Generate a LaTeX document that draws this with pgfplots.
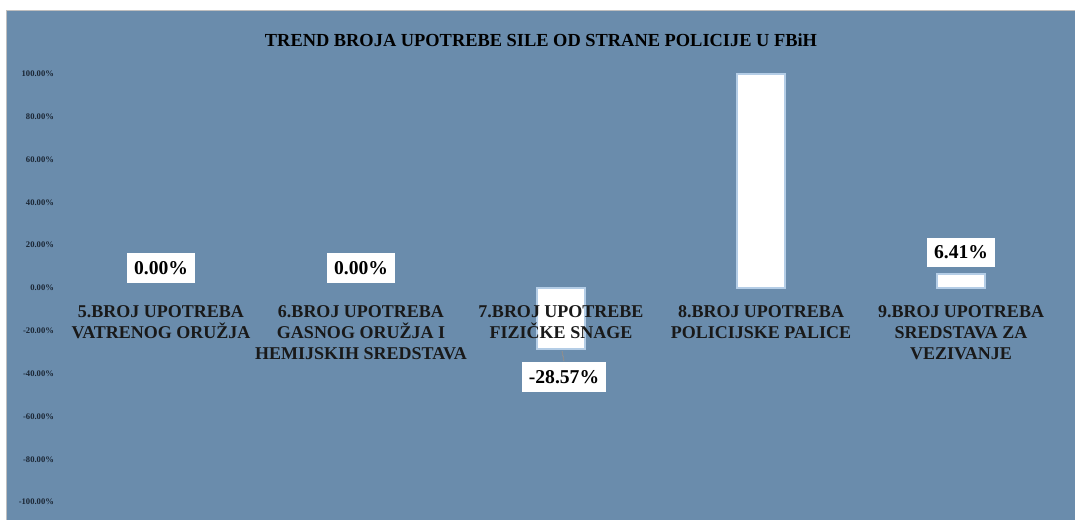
\documentclass[border=0pt]{standalone}
\usepackage{pgfplots}
\pgfplotsset{compat=1.18}
\usepackage{fontspec}
\setmainfont{Liberation Serif}
\definecolor{bgblue}{HTML}{6A8CAC}
\definecolor{glow}{HTML}{B4CDE6}
\definecolor{tickcol}{HTML}{1A2533}
\begin{document}
\begin{tikzpicture}
\fill[white] (0,0) rectangle (537.5pt,260pt);
\fill[black!25] (3pt,0) rectangle (537.5pt,255.2pt);
\fill[bgblue] (3.5pt,0) rectangle (537.5pt,254.5pt);
\useasboundingbox (0,0) rectangle (537.5pt,260pt);
\begin{axis}[
  at={(30.5pt,9pt)}, anchor=south west,
  scale only axis, width=500pt, height=214pt,
  xmin=-0.5, xmax=4.5, ymin=-100, ymax=100,
  axis line style={draw=none},
  tick style={draw=none},
  axis on top,
  ybar,
  ytick={-100,-80,...,100},
  /pgf/number format/assume math mode=true,
  yticklabel={\pgfmathprintnumber[fixed,fixed zerofill,precision=2]{\tick}\%},
  yticklabel style={font=\bfseries\fontsize{4.3}{5}\selectfont, text=tickcol, xshift=0pt},
  xtick={0,1,2,3,4},
  xticklabels={{5.BROJ UPOTREBA\\VATRENOG ORUŽJA},{6.BROJ UPOTREBA\\GASNOG ORUŽJA I\\HEMIJSKIH SREDSTAVA},{7.BROJ UPOTREBE\\FIZIČKE SNAGE},{8.BROJ UPOTREBA\\POLICIJSKE PALICE},{9.BROJ UPOTREBA\\SREDSTAVA ZA\\VEZIVANJE}},
  xticklabel style={font=\bfseries\fontsize{9}{10.5}\selectfont, text=black!90, align=center, anchor=north, yshift=106pt},
  title={TREND BROJA UPOTREBE SILE OD STRANE POLICIJE U FBiH},
  title style={font=\bfseries\fontsize{9.2}{11}\selectfont, at={(axis description cs:0.48,1)}, anchor=center, yshift=11pt},
]
% zero-valued categories (labels only)
\addplot[bar width=24pt, bar shift=0pt, draw=none, fill=none,
  point meta=explicit symbolic,
  nodes near coords,
  nodes near coords style={font=\bfseries\fontsize{9.8}{11}\selectfont, fill=white, text=black, anchor=south, inner xsep=3.5pt, inner ysep=4pt, yshift=2.5pt}]
  table[meta=lab] {
x y lab
0 0 0.00\%
1 0 0.00\%
};
% positive labelled bar
\addplot[bar width=24pt, bar shift=0pt, fill=white, draw=glow, line width=1.2pt,
  point meta=explicit symbolic,
  nodes near coords,
  nodes near coords style={font=\bfseries\fontsize{9.8}{11}\selectfont, fill=white, text=black, anchor=south, inner xsep=3.5pt, inner ysep=4pt, yshift=3pt}]
  table[meta=lab] {
x y lab
4 6.41 6.41\%
};
% negative labelled bar
\addplot[bar width=24pt, bar shift=0pt, fill=white, draw=glow, line width=1.2pt,
  point meta=explicit symbolic,
  nodes near coords,
  nodes near coords style={font=\bfseries\fontsize{9.8}{11}\selectfont, fill=white, text=black, anchor=north, inner xsep=3.5pt, inner ysep=4pt, yshift=-6pt, xshift=1.5pt,
    append after command={(\tikzlastnode.north) edge[draw=black!45, line width=0.5pt] +(-1pt,5pt)}}]
  table[meta=lab] {
x y lab
2 -28.57 -28.57\%
};
% unlabelled bar
\addplot[bar width=24pt, bar shift=0pt, fill=white, draw=glow, line width=1.2pt]
  table {
x y
3 100
};
\end{axis}
\end{tikzpicture}
\end{document}
